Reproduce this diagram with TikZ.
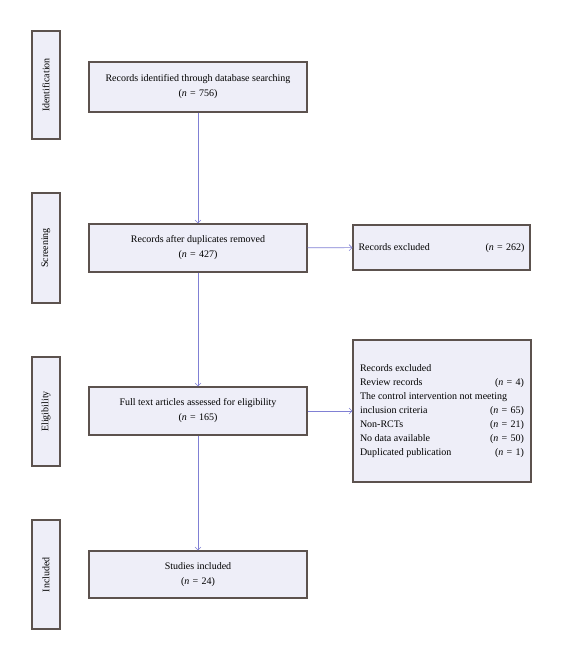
\documentclass[tikz,border=0pt]{standalone}
\usepackage{fontspec}
\setmainfont{Liberation Serif}
\usetikzlibrary{arrows.meta}
\definecolor{boxfill}{RGB}{238,238,248}
\definecolor{boxline}{RGB}{92,82,78}
\definecolor{arrowc}{RGB}{128,128,212}
\newcommand{\nval}[1]{(\textit{n}\,\,=\,\,#1)}
\tikzset{
  flowbox/.style={draw=boxline, line width=1.1pt, fill=boxfill, inner sep=0pt,
    align=center, font=\fontsize{10}{15}\selectfont},
  sidebox/.style={draw=boxline, line width=1.1pt, fill=boxfill, inner sep=0pt,
    minimum width=28pt, font=\fontsize{10}{12}\selectfont},
  conn/.style={draw=arrowc, line width=0.6pt, -{Straight Barb[length=3pt,width=6pt]}}
}
\begin{document}
\begin{tikzpicture}[x=1pt,y=-1pt]
\useasboundingbox (0,0) rectangle (561,660);
% side boxes
\node[sidebox, minimum height=108pt] (sid) at (46,85) {\rotatebox{90}{Identification}};
\node[sidebox, minimum height=110pt] (sscr) at (46,248) {\rotatebox{90}{Screening}};
\node[sidebox, minimum height=109pt] (selig) at (46,411.5) {\rotatebox{90}{Eligibility}};
\node[sidebox, minimum height=109pt] (sinc) at (46,574.5) {\rotatebox{90}{Included}};
% main boxes
\node[flowbox, minimum width=218pt, minimum height=50pt] (b1) at (198,87)
  {Records identified through database searching\\\nval{756}};
\node[flowbox, minimum width=218pt, minimum height=48pt] (b2) at (198,248)
  {Records after duplicates removed\\\nval{427}};
\node[flowbox, minimum width=218pt, minimum height=48pt] (b3) at (198,411)
  {Full text articles assessed for eligibility\\\nval{165}};
\node[flowbox, minimum width=218pt, minimum height=47pt] (b4) at (198,574.5)
  {Studies included\\\nval{24}};
% exclusion boxes
\node[flowbox, minimum width=177pt, minimum height=45pt] (e1) at (441.5,247.5)
  {\begin{tabular*}{166pt}{@{}l@{\extracolsep{\fill}}r@{}}Records excluded & \nval{262}\end{tabular*}};
\node[flowbox, minimum width=178pt, minimum height=142pt, font=\fontsize{10}{14}\selectfont] (e2) at (442,411)
  {\begin{tabular*}{164pt}{@{}l@{\extracolsep{\fill}}r@{}}
   Records excluded & \\
   Review records & \nval{4}\\
   \multicolumn{2}{@{}l@{}}{The control intervention not meeting}\\
   inclusion criteria & \nval{65}\\
   Non-RCTs & \nval{21}\\
   No data available & \nval{50}\\
   Duplicated publication & \nval{1}
   \end{tabular*}};
% connectors
\draw[conn] (b1) -- (b2);
\draw[conn] (b2) -- (b3);
\draw[conn] (b3) -- (b4);
\draw[conn] (b2) -- (e1);
\draw[conn] (b3.east) -- (e2.west);
\end{tikzpicture}
\end{document}
